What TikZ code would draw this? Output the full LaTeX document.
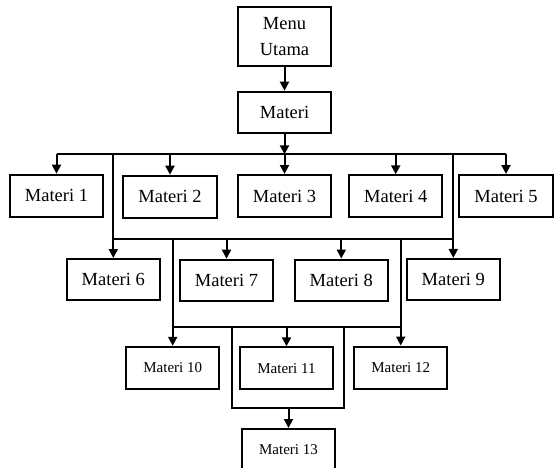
\documentclass[tikz,border=0pt]{standalone}
\usepackage{fontspec}
\setmainfont{Liberation Serif}
\usetikzlibrary{arrows.meta,positioning,calc}

\begin{document}
\begin{tikzpicture}[x=1pt,y=-1pt,
    box/.style={draw, line width=2pt, minimum width=93.5pt, minimum height=42pt, inner sep=0pt, font=\fontsize{18.5}{26}\selectfont},
    smallbox/.style={box, font=\fontsize{15}{18}\selectfont},
    line/.style={line width=2pt},
    arr/.style={line, -{Triangle[length=9pt,width=9pt]}}]
    \useasboundingbox (0,0) rectangle (554,468);
    \clip (0,0) rectangle (554,468);
    \node[box, minimum height=58.7pt, align=center] (menu) at (284.5,36.7) {Menu\\Utama};
    \node[box, minimum height=41pt] (materi) at (284.5,112.2) {Materi};
    \node[box] (m1) at (56.5,195.7) {Materi 1};
    \node[box] (m2) at (170,196.7) {Materi 2};
    \node[box] (m3) at (284.5,196) {Materi 3};
    \node[box] (m4) at (395.7,196.3) {Materi 4};
    \node[box] (m5) at (506,196) {Materi 5};
    \node[box, minimum height=41pt] (m6) at (113.3,279.5) {Materi 6};
    \node[box, minimum height=41pt] (m7) at (226.5,280.2) {Materi 7};
    \node[box, minimum height=41pt] (m8) at (341.3,280) {Materi 8};
    \node[box, minimum height=41pt] (m9) at (453.3,279.4) {Materi 9};
    \node[smallbox] (m10) at (172.7,367.8) {Materi 10};
    \node[smallbox] (m11) at (286.5,368.3) {Materi 11};
    \node[smallbox] (m12) at (400.7,367.5) {Materi 12};
    \node[smallbox] (m13) at (288.5,450) {Materi 13};
    \coordinate (b1) at (284.5,154.3);
    \coordinate (b2) at (284.5,239.3);
    \coordinate (b3) at (284.5,326.7);
    \coordinate (loopL) at (232.3,407.7);
    \coordinate (loopR) at (344,407.7);
    \draw[arr] (menu) -- (materi);
    \draw[arr] (materi) -- (b1);
    \draw[line] (m1.north |- b1) -- (m5.north |- b1);
    \foreach \n in {m1,m2,m3,m4,m5}
        \draw[arr] (\n.north |- b1) -- (\n);
    \draw[line] (m6.north |- b1) -- (m6.north |- b2) -- (m9.north |- b2) -- (m9.north |- b1);
    \foreach \n in {m6,m7,m8,m9}
        \draw[arr] (\n.north |- b2) -- (\n);
    \draw[line] (m10.north |- b2) -- (m10.north |- b3) -- (m12.north |- b3) -- (m12.north |- b2);
    \foreach \n in {m10,m11,m12}
        \draw[arr] (\n.north |- b3) -- (\n);
    \draw[line] (loopL |- b3) -- (loopL) -- (loopR) -- (loopR |- b3);
    \draw[arr] (m13.north |- loopL) -- (m13);
\end{tikzpicture}
\end{document}
